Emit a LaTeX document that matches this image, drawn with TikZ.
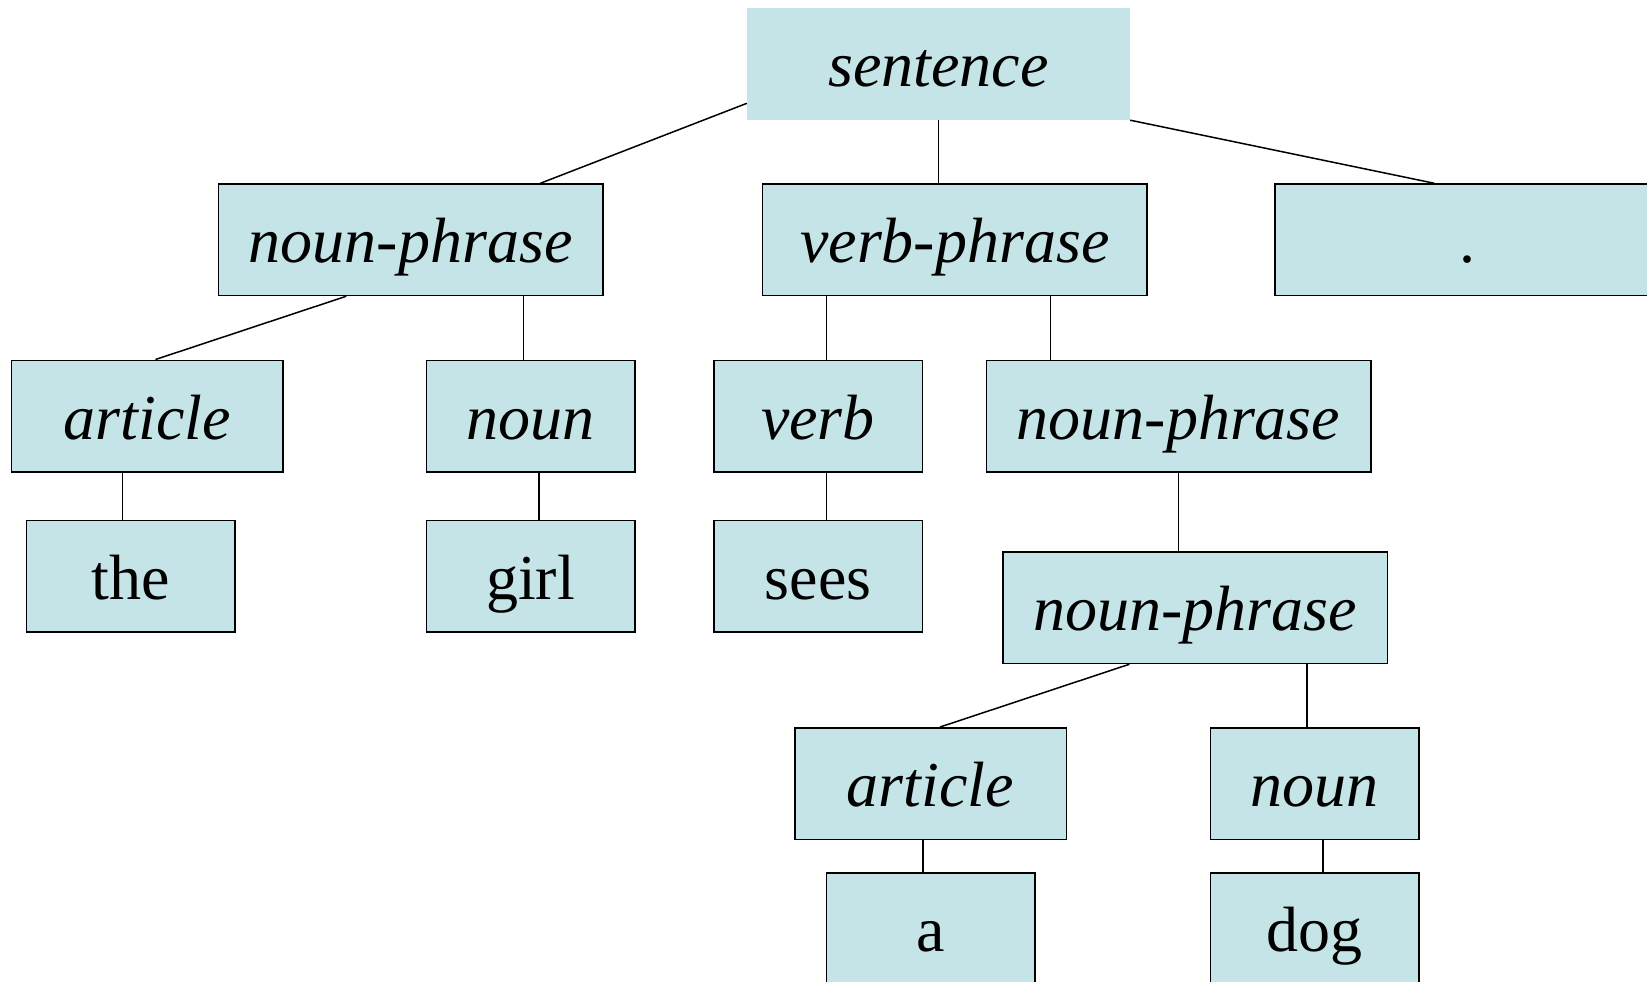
\documentclass[tikz,border=0pt]{standalone}
\usepackage{fontspec}
\setmainfont{Liberation Serif}
\usetikzlibrary{calc}
\definecolor{boxfill}{RGB}{197,228,232}
\begin{document}
\begin{tikzpicture}[x=1pt,y=-1pt,
  base/.style={fill=boxfill, inner sep=0pt, minimum height=111.5pt,
    text height=58.6pt, text depth=12.6pt,
    font=\fontsize{64}{70}\selectfont},
  box/.style={base, draw=black, line width=1.5pt},
  cat/.style={font=\fontsize{64}{70}\selectfont\itshape},
  wide/.style={minimum width=384.5pt},
  mid/.style={minimum width=271.5pt},
  narrow/.style={minimum width=208.5pt},
  link/.style={draw=black, line width=1.5pt}]
\clip (0,0) rectangle (1647,982);

% level 0
\node[base, cat, minimum width=383pt, minimum height=112pt] (sentence) at (938.5,64) {sentence};
% level 1
\node[box, cat, wide] (np1) at (410.75,239.75) {noun-phrase};
\node[box, cat, wide] (vp) at (954.8,239.75) {verb-phrase};
\node[box, wide] (dot) at (1467,239.75) {.};
% level 2
\node[box, cat, mid] (art1) at (147.3,416) {article};
\node[box, cat, narrow] (noun1) at (530.5,416) {noun};
\node[box, cat, narrow] (verb) at (818,416) {verb};
\node[box, cat, wide] (np2) at (1178.5,416) {noun-phrase};
% level 3
\node[box, narrow] (the) at (130.8,576) {the};
\node[box, narrow] (girl) at (530.5,576) {girl};
\node[box, narrow] (sees) at (818,576) {sees};
\node[box, cat, wide] (np3) at (1195,607.75) {noun-phrase};
% level 4
\node[box, cat, mid] (art2) at (930.5,783.5) {article};
\node[box, cat, narrow] (noun2) at (1314.5,783.5) {noun};
% level 5
\node[box, narrow] (a) at (930.5,928.5) {a};
\node[box, narrow] (dog) at (1314.5,928.5) {dog};

% connectors
\draw[link] ($(sentence.south west)!0.15!(sentence.north west)$) -- ($(np1.north west)!0.836!(np1.north east)$);
\draw[link] (sentence.south) -- (sentence.south |- vp.north);
\draw[link] (sentence.south east) -- ($(dot.north west)!0.415!(dot.north east)$);

\draw[link] ($(np1.south west)!0.333!(np1.south east)$) -- ($(art1.north west)!0.53!(art1.north east)$);
\coordinate (npn) at ($(np1.south west)!0.792!(np1.south east)$);
\draw[link] (npn) -- (npn |- noun1.north);
\coordinate (vpv) at ($(vp.south west)!0.167!(vp.south east)$);
\draw[link] (vpv) -- (vpv |- verb.north);
\coordinate (vpn) at ($(vp.south west)!0.748!(vp.south east)$);
\draw[link] (vpn) -- (vpn |- np2.north);

\coordinate (at) at ($(art1.south west)!0.41!(art1.south east)$);
\draw[link] (at) -- (at |- the.north);
\coordinate (ng) at ($(noun1.south west)!0.54!(noun1.south east)$);
\draw[link] (ng) -- (ng |- girl.north);
\coordinate (vs) at ($(verb.south west)!0.54!(verb.south east)$);
\draw[link] (vs) -- (vs |- sees.north);
\draw[link] (np2.south) -- (np2.south |- np3.north);

\draw[link] ($(np3.south west)!0.33!(np3.south east)$) -- ($(art2.north west)!0.535!(art2.north east)$);
\coordinate (nn) at ($(np3.south west)!0.79!(np3.south east)$);
\draw[link] (nn) -- (nn |- noun2.north);
\coordinate (aa) at ($(art2.south west)!0.472!(art2.south east)$);
\draw[link] (aa) -- (aa |- a.north);
\coordinate (nd) at ($(noun2.south west)!0.54!(noun2.south east)$);
\draw[link] (nd) -- (nd |- dog.north);
\end{tikzpicture}
\end{document}
